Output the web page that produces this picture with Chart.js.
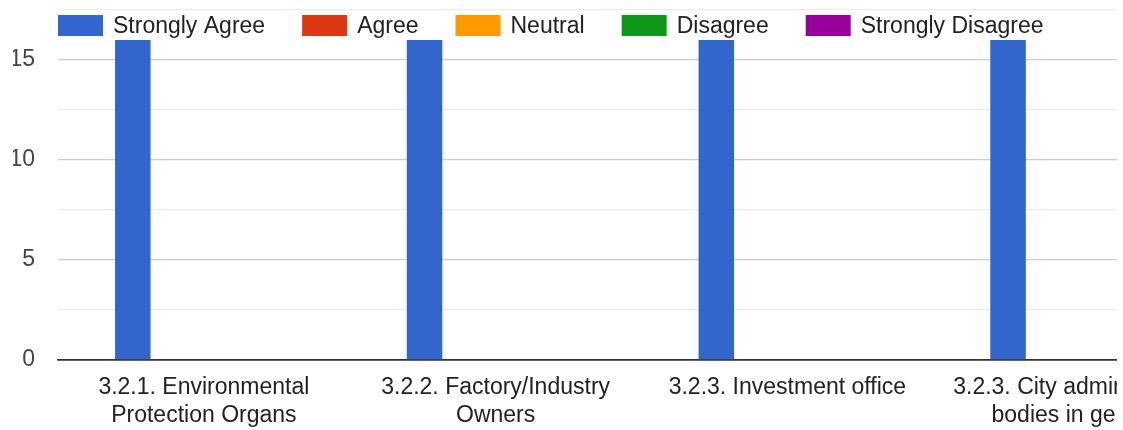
<!DOCTYPE html>
<html>
<head>
<meta charset="utf-8">
<script src="https://cdn.jsdelivr.net/npm/chart.js@4"></script>
<style>
  html, body { margin: 0; padding: 0; background: #ffffff; }
  #frame { width: 1117px; height: 430px; overflow: hidden; position: relative; }
  #chart { display: block; }
</style>
</head>
<body>
<div id="frame"><canvas id="chart" width="1227" height="430"></canvas></div>
<script>
// Categories (multi-line axis labels)
const categories = [
  ["3.2.1. Environmental", "Protection Organs"],
  ["3.2.2. Factory/Industry", "Owners"],
  ["3.2.3. Investment office"],
  ["3.2.3. City administrative", "bodies in general"]
];

// Response series
const seriesNames = ["Strongly Agree", "Agree", "Neutral", "Disagree", "Strongly Disagree"];
const seriesColors = ["#3366cc", "#dc3912", "#ff9900", "#109618", "#990099"];

const stronglyAgree = [16, 16, 16, 16];
const agree = [0, 0, 0, 0];
const neutral = [0, 0, 0, 0];
const disagree = [0, 0, 0, 0];
const stronglyDisagree = [0, 0, 0, 0];

// Value axis
const yMax = 17.5;
const yStep = 2.5;
const yLabelled = [0, 5, 10, 15];

const seriesValues = [stronglyAgree, agree, neutral, disagree, stronglyDisagree];

const FONT = "Arial, 'Liberation Sans', Helvetica, sans-serif";
const FONT_SIZE = 23;

// Legend drawn inside the plot area, left-aligned, one row
const insetLegend = {
  id: 'insetLegend',
  afterDatasetsDraw(chart) {
    const ctx = chart.ctx;
    const area = chart.chartArea;
    const boxW = 45, boxH = 21, gap = 10, spacing = 37;
    const top = 15;
    let x = area.left;
    ctx.save();
    ctx.font = FONT_SIZE + "px " + FONT;
    ctx.textBaseline = 'middle';
    ctx.textAlign = 'left';
    chart.data.datasets.forEach(ds => {
      ctx.fillStyle = ds.backgroundColor;
      ctx.fillRect(x, top, boxW, boxH);
      x += boxW + gap;
      ctx.fillStyle = '#222222';
      ctx.fillText(ds.label, x, top + boxH / 2 + 1);
      x += ctx.measureText(ds.label).width + spacing;
    });
    ctx.restore();
  }
};

new Chart(document.getElementById('chart'), {
  type: 'bar',
  data: {
    labels: categories,
    datasets: seriesNames.map((name, i) => ({
      label: name,
      data: seriesValues[i],
      backgroundColor: seriesColors[i],
      borderWidth: 0,
      barPercentage: 1.0,
      categoryPercentage: 0.609
    }))
  },
  options: {
    responsive: false,
    animation: false,
    devicePixelRatio: 1,
    layout: { padding: { left: 13, right: 2, top: 10, bottom: 0 } },
    plugins: {
      legend: { display: false },
      tooltip: { enabled: false }
    },
    scales: {
      x: {
        grid: { display: false, drawTicks: false },
        border: { display: true, color: '#333333', width: 1.5 },
        ticks: {
          color: '#222222',
          font: { family: FONT, size: FONT_SIZE, lineHeight: 1.24 },
          padding: 13,
          maxRotation: 0,
          autoSkip: false
        },
        afterFit(axis) {
          axis.height = 70;
          axis.paddingLeft = 0;
          axis.paddingRight = 0;
        }
      },
      y: {
        min: 0,
        max: yMax,
        border: { display: false },
        grid: {
          drawTicks: false,
          color: c => {
            const v = c.tick ? c.tick.value : 0;
            if (v === 0) return '#333333';
            return yLabelled.includes(v) ? '#cccccc' : '#ebebeb';
          },
          lineWidth: c => (c.tick && c.tick.value === 0 ? 1.5 : 1.2)
        },
        ticks: {
          stepSize: yStep,
          color: '#444444',
          font: { family: FONT, size: FONT_SIZE },
          padding: 23,
          callback: v => (yLabelled.includes(v) ? String(v) : '')
        },
        afterFit(axis) {
          axis.width = 45;
          axis.paddingTop = 0;
          axis.paddingBottom = 0;
        }
      }
    }
  },
  plugins: [insetLegend]
});
</script>
</body>
</html>
